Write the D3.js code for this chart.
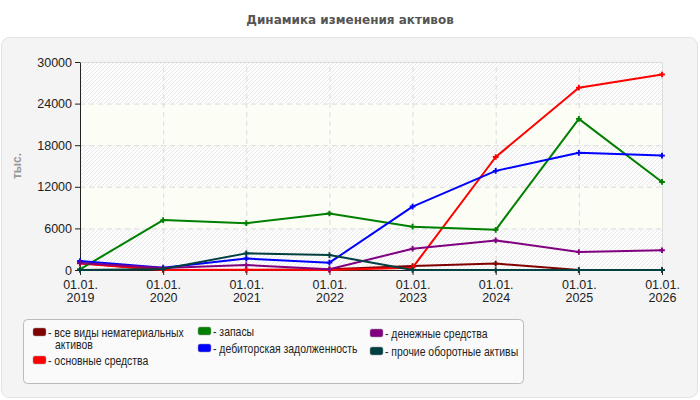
<!DOCTYPE html>
<html>
<head>
<meta charset="utf-8">
<script src="https://d3js.org/d3.v7.min.js"></script>
<style>
  body { margin: 0; background: #fff; font-family: "Liberation Sans", Arial, sans-serif; }
</style>
</head>
<body>
<div id="chart"></div>
<script>
        // Data
        const dates = ["2019", "2020", "2021", "2022", "2023", "2024", "2025", "2026"];
        const intangible = [1000, 0, 0, 100, 580, 920, 0, 0];
        const fixedAssets = [950, 0, 50, 0, 340, 16300, 26300, 28200];
        const inventory = [100, 7200, 6750, 8150, 6250, 5800, 21800, 12700];
        const receivables = [1300, 340, 1650, 1060, 9150, 14300, 16900, 16500];
        const cash = [1010, 300, 720, 100, 3070, 4270, 2600, 2850];
        const otherCurrent = [0, 150, 2400, 2150, 0, 0, 0, 0];
        const yTicks = [0, 6000, 12000, 18000, 24000, 30000];

        const series = [
            { name: "все виды нематериальных активов", values: intangible, color: "#800000" },
            { name: "основные средства", values: fixedAssets, color: "#ff0000" },
            { name: "запасы", values: inventory, color: "#008000" },
            { name: "дебиторская задолженность", values: receivables, color: "#0000ff" },
            { name: "денежные средства", values: cash, color: "#800080" },
            { name: "прочие оборотные активы", values: otherCurrent, color: "#004040" }
        ];

        const width = 700, height = 400;
        const margin = { left: 80, right: 38, top: 62, bottom: 130 };

        const svg = d3.select("#chart").append("svg")
            .attr("width", width)
            .attr("height", height);

        // Title and panel
        svg.append("text")
            .attr("x", 350).attr("y", 24)
            .attr("text-anchor", "middle")
            .attr("font-family", "DejaVu Sans, Verdana, sans-serif")
            .attr("font-size", 12).attr("font-weight", "bold")
            .attr("fill", "#555")
            .text("Динамика изменения активов");

        svg.append("rect")
            .attr("x", 1.5).attr("y", 37.5)
            .attr("width", 696).attr("height", 360)
            .attr("rx", 8)
            .attr("fill", "#f4f4f4").attr("stroke", "#e2e2e2");

        // Hatch pattern
        const defs = svg.append("defs");
        const pat = defs.append("pattern")
            .attr("id", "hatch").attr("patternUnits", "userSpaceOnUse")
            .attr("width", 4).attr("height", 4);
        pat.append("rect").attr("width", 4).attr("height", 4).attr("fill", "#fdfdfd");
        pat.append("path").attr("d", "M0,4 L4,0 M-1,1 L1,-1 M3,5 L5,3")
            .attr("stroke", "#e2e2e2").attr("stroke-width", 0.8);

        const x = d3.scalePoint().domain(dates).range([margin.left, width - margin.right]);
        const y = d3.scaleLinear().domain([0, 30000]).range([height - margin.bottom, margin.top]);

        const g = svg.append("g");

        // Background bands
        g.selectAll(".band")
            .data(d3.pairs(yTicks))
            .enter().append("rect")
            .attr("x", margin.left)
            .attr("y", d => y(d[1]))
            .attr("width", x.range()[1] - margin.left)
            .attr("height", d => y(d[0]) - y(d[1]))
            .attr("fill", (d, i) => i % 2 === 0 ? "url(#hatch)" : "#fcfdf5");

        // Grid
        g.selectAll(".hgrid")
            .data(yTicks.slice(1, -1))
            .enter().append("line")
            .attr("x1", margin.left).attr("x2", x.range()[1])
            .attr("y1", d => y(d) + 0.5).attr("y2", d => y(d) + 0.5)
            .attr("stroke", "#dcdcdc").attr("stroke-dasharray", "5,4");
        g.selectAll(".vgrid")
            .data(dates.slice(1, -1))
            .enter().append("line")
            .attr("x1", d => x(d) + 0.5).attr("x2", d => x(d) + 0.5)
            .attr("y1", y(0)).attr("y2", y(30000))
            .attr("stroke", "#dcdcdc").attr("stroke-dasharray", "5,4");

        // Plot border top/right
        g.append("path")
            .attr("d", `M${margin.left},${y(30000) + 0.5}H${x.range()[1] + 0.5}V${y(0)}`)
            .attr("fill", "none").attr("stroke", "#dcdcdc");

        // Axes
        const yAxis = g.append("g")
            .attr("transform", `translate(${margin.left},0)`)
            .call(d3.axisLeft(y).tickValues(yTicks).tickSize(5).tickSizeOuter(0).tickFormat(d3.format("d")));
        yAxis.selectAll("text").attr("font-size", 12.5).attr("fill", "#222")
            .attr("font-family", "Liberation Sans, Arial, sans-serif");
        yAxis.selectAll("line, path").attr("stroke", "#222");

        const xAxis = g.append("g")
            .attr("transform", `translate(0,${y(0)})`)
            .call(d3.axisBottom(x).tickSize(5).tickSizeOuter(0).tickFormat(""));
        xAxis.selectAll("line, path").attr("stroke", "#222");
        xAxis.selectAll(".tick").append("text")
            .attr("text-anchor", "middle")
            .attr("font-size", 12.5).attr("fill", "#222")
            .attr("font-family", "Liberation Sans, Arial, sans-serif")
            .selectAll("tspan")
            .data(d => ["01.01.", d])
            .enter().append("tspan")
            .attr("x", 0)
            .attr("y", (d, i) => 19 + i * 13)
            .text(d => d);

        svg.append("text")
            .attr("transform", "translate(21,166) rotate(-90)")
            .attr("text-anchor", "middle")
            .attr("font-size", 12).attr("font-weight", "bold")
            .attr("fill", "#999")
            .text("тыс.");

        // Lines
        const line = d3.line()
            .x((d, i) => x(dates[i]))
            .y(d => y(d));

        series.forEach(s => {
            g.append("path")
                .datum(s.values)
                .attr("fill", "none")
                .attr("stroke", s.color)
                .attr("stroke-width", 2)
                .attr("stroke-linejoin", "round")
                .attr("d", line);
            g.selectAll(null)
                .data(s.values)
                .enter().append("path")
                .attr("transform", (d, i) => `translate(${x(dates[i])},${y(d)})`)
                .attr("d", d3.symbol().type(d3.symbolCross).size(18))
                .attr("fill", s.color);
        });

        // Legend
        svg.append("rect")
            .attr("x", 23.5).attr("y", 319.5)
            .attr("width", 500).attr("height", 64)
            .attr("rx", 4)
            .attr("fill", "#fafafa").attr("stroke", "#bbb");

        const legendPos = [
            { x: 33, y: 333 }, { x: 33, y: 361 },
            { x: 198, y: 332 }, { x: 198, y: 349 },
            { x: 370, y: 334 }, { x: 370, y: 352 }
        ];
        const legendLines = [
            ["все виды нематериальных", "активов"],
            ["основные средства"],
            ["запасы"],
            ["дебиторская задолженность"],
            ["денежные средства"],
            ["прочие оборотные активы"]
        ];

        series.forEach((s, i) => {
            const p = legendPos[i];
            const lg = svg.append("g").attr("transform", `translate(${p.x},${p.y})`);
            lg.append("rect")
                .attr("x", 0).attr("y", -5)
                .attr("width", 13).attr("height", 8)
                .attr("rx", 2)
                .attr("fill", s.color).attr("stroke", "#999").attr("stroke-width", 0.5);
            const t = lg.append("g").attr("transform", "translate(15,0) scale(0.87,1)")
                .append("text")
                .attr("font-size", 12).attr("fill", "#222");
            legendLines[i].forEach((ln, j) => {
                t.append("tspan")
                    .attr("x", j === 0 ? 0 : 8)
                    .attr("y", 4 + j * 12)
                    .text(j === 0 ? "- " + ln : ln);
            });
        });
</script>
</body>
</html>
